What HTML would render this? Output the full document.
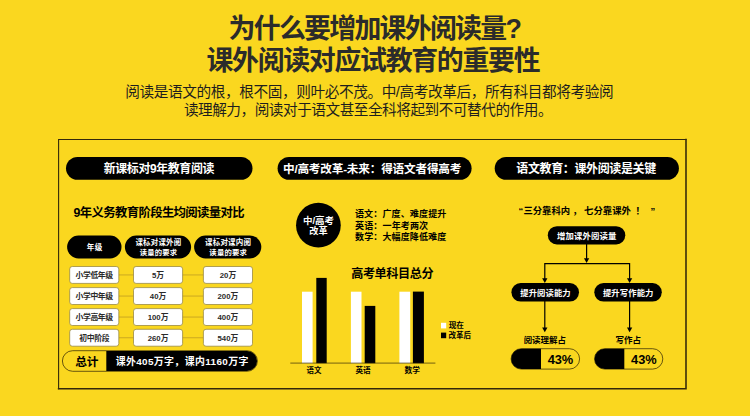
<!DOCTYPE html>
<html lang="zh-CN">
<head>
<meta charset="utf-8">
<title>为什么要增加课外阅读量?</title>
<style>
html,body{margin:0;padding:0}
body{width:750px;height:416px;background:#FAD71F;overflow:hidden;position:relative;
 font-family:"Liberation Sans",sans-serif;line-height:1;white-space:nowrap}
/* artwork: shapes + text */
#art{position:absolute;left:0;top:0;width:750px;height:416px;display:block}
#art text{font-family:"Liberation Sans","Noto Sans CJK SC",sans-serif;font-weight:bold}
#art text.n{font-weight:normal}
/* real text, laid over the artwork as a transparent selectable layer */
#txt,#txt *{position:absolute;margin:0;padding:0;box-sizing:border-box;font-weight:bold;overflow:hidden;color:transparent}
#txt,#txt section{left:0;top:0;width:750px;height:416px}
h1{font-size:25.5px;left:206px;width:334px;text-align:center}
p.sub{font-size:14.2px;font-weight:normal!important;left:126px;width:490px;text-align:center}
.c{text-align:center}
.hd{top:157px;height:23px;font-size:11.7px;line-height:23px}
.th{top:235px;height:23px;font-size:7.5px;line-height:9.3px;padding-top:2px}
.cell{width:49px;height:17px;font-size:7.5px;line-height:17px}
</style>
</head>
<body>
<svg id="art" viewBox="0 0 750 416" width="750" height="416" aria-hidden="true">
<path d="M58.6 388.8V139.5H686" fill="none" stroke="#33280a" stroke-width="1.1" stroke-linecap="square"/>
<path d="M686 139.5V388.8H58.6" fill="none" stroke="#33280a" stroke-width="1.55" stroke-linecap="square"/>
<rect x="66.00" y="156.90" width="186.50" height="22.90" rx="11.45" fill="#000"/>
<rect x="277.60" y="156.90" width="194.00" height="22.90" rx="11.45" fill="#000"/>
<rect x="494.70" y="156.90" width="184.20" height="22.90" rx="11.45" fill="#000"/>
<rect x="67.10" y="235.60" width="54.40" height="22.80" rx="11.40" fill="#000"/>
<rect x="124.90" y="235.60" width="66.20" height="22.80" rx="11.40" fill="#000"/>
<rect x="194.10" y="235.60" width="67.20" height="22.80" rx="11.40" fill="#000"/>
<path d="M118.80 274.95H203.40" stroke="#bf9d22" stroke-width="0.8"/>
<rect x="69.70" y="266.50" width="49.10" height="16.90" rx="2.60" fill="#fff" stroke="#8d7c36" stroke-width="0.70"/>
<rect x="133.50" y="266.50" width="49.10" height="16.90" rx="2.60" fill="#fff" stroke="#8d7c36" stroke-width="0.70"/>
<rect x="203.40" y="266.50" width="49.10" height="16.90" rx="2.60" fill="#fff" stroke="#8d7c36" stroke-width="0.70"/>
<path d="M118.80 296.05H203.40" stroke="#bf9d22" stroke-width="0.8"/>
<rect x="69.70" y="287.60" width="49.10" height="16.90" rx="2.60" fill="#fff" stroke="#8d7c36" stroke-width="0.70"/>
<rect x="133.50" y="287.60" width="49.10" height="16.90" rx="2.60" fill="#fff" stroke="#8d7c36" stroke-width="0.70"/>
<rect x="203.40" y="287.60" width="49.10" height="16.90" rx="2.60" fill="#fff" stroke="#8d7c36" stroke-width="0.70"/>
<path d="M118.80 317.05H203.40" stroke="#bf9d22" stroke-width="0.8"/>
<rect x="69.70" y="308.60" width="49.10" height="16.90" rx="2.60" fill="#fff" stroke="#8d7c36" stroke-width="0.70"/>
<rect x="133.50" y="308.60" width="49.10" height="16.90" rx="2.60" fill="#fff" stroke="#8d7c36" stroke-width="0.70"/>
<rect x="203.40" y="308.60" width="49.10" height="16.90" rx="2.60" fill="#fff" stroke="#8d7c36" stroke-width="0.70"/>
<path d="M118.80 337.75H203.40" stroke="#bf9d22" stroke-width="0.8"/>
<rect x="69.70" y="329.30" width="49.10" height="16.90" rx="2.60" fill="#fff" stroke="#8d7c36" stroke-width="0.70"/>
<rect x="133.50" y="329.30" width="49.10" height="16.90" rx="2.60" fill="#fff" stroke="#8d7c36" stroke-width="0.70"/>
<rect x="203.40" y="329.30" width="49.10" height="16.90" rx="2.60" fill="#fff" stroke="#8d7c36" stroke-width="0.70"/>
<rect x="62.40" y="350.70" width="195.00" height="20.60" rx="10.30" fill="#FAD71F" stroke="#2a2006" stroke-width="0.70"/>
<path d="M106.3 351.05H247.10a9.95 9.95 0 0 1 0 19.90H106.3z" fill="#000"/>
<circle cx="318.4" cy="225.2" r="22.35" fill="#000"/>
<rect x="302.00" y="291.70" width="10.60" height="71.50" fill="#fff"/>
<rect x="316.30" y="277.90" width="10.40" height="85.30" fill="#000"/>
<rect x="350.90" y="291.70" width="10.60" height="71.50" fill="#fff"/>
<rect x="364.70" y="305.90" width="10.60" height="57.30" fill="#000"/>
<rect x="399.40" y="291.70" width="10.80" height="71.50" fill="#fff"/>
<rect x="412.90" y="291.60" width="11.00" height="71.60" fill="#000"/>
<path d="M290.3 363.1H435.4" stroke="#2a2006" stroke-width="0.65"/>
<rect x="441.00" y="322.80" width="5.20" height="5.60" fill="#fff"/>
<rect x="441.00" y="332.60" width="5.20" height="5.60" fill="#000"/>
<rect x="547.80" y="226.20" width="77.50" height="18.20" rx="9.10" fill="#000"/>
<rect x="511.40" y="283.10" width="67.60" height="18.50" rx="9.25" fill="#000"/>
<rect x="594.30" y="283.10" width="67.50" height="18.50" rx="9.25" fill="#000"/>
<g stroke="#000" stroke-width="1.2" fill="none"><path d="M586.6 244V259"/><path d="M544.8 279V263.7H629.6V279"/><path d="M544.8 301V328"/><path d="M629.6 301V328"/></g>
<path d="M586.6 263.0l-2.65 -4.8h5.3z"/>
<path d="M544.8 283.0l-2.65 -4.8h5.3z"/>
<path d="M629.6 283.0l-2.65 -4.8h5.3z"/>
<path d="M544.8 332.3l-2.65 -4.8h5.3z"/>
<path d="M629.6 332.3l-2.65 -4.8h5.3z"/>
<rect x="511.10" y="348.70" width="68.50" height="20.40" rx="10.20" fill="#FAD71F" stroke="#2a2006" stroke-width="0.70"/>
<path d="M541.00 348.80H521.30a10.10 10.10 0 0 0 0 20.20H541.00z" fill="#000"/>
<rect x="594.50" y="348.70" width="68.30" height="20.40" rx="10.20" fill="#FAD71F" stroke="#2a2006" stroke-width="0.70"/>
<path d="M624.30 348.80H604.70a10.10 10.10 0 0 0 0 20.20H624.30z" fill="#000"/>
<text x="228.58" y="37.52" font-size="26.9" fill="#2b2b2b" letter-spacing="-1.72">为什么要增加课外阅读量?</text>
<text x="206.46" y="69.92" font-size="26.9" fill="#2b2b2b" letter-spacing="-1.29">课外阅读对应试教育的重要性</text>
<text class="n" x="125.31" y="96.97" font-size="14.65" fill="#1e1e1e" letter-spacing="-0.4">阅读是语文的根，根不固，则叶必不茂。中/高考改革后，所有科目都将考验阅</text>
<text class="n" x="183.88" y="114.87" font-size="14.65" fill="#1e1e1e" letter-spacing="-0.48">读理解力，阅读对于语文甚至全科将起到不可替代的作用。</text>
<text x="103.69" y="172.84" font-size="11.95" fill="#fff" letter-spacing="-0.37">新课标对9年教育阅读</text>
<text x="282.97" y="172.73" font-size="11.66" fill="#fff" letter-spacing="-0.22">中/高考改革-未来：得语文者得高考</text>
<text x="516.28" y="172.87" font-size="12.02" fill="#fff" letter-spacing="-0.38">语文教育：课外阅读是关键</text>
<text x="73.41" y="216.64" font-size="12.35" fill="#000" letter-spacing="-0.6">9年义务教育阶段生均阅读量对比</text>
<text x="86.82" y="250.21" font-size="7.52" fill="#fff" letter-spacing="0.3">年级</text>
<text x="135.44" y="245.39" font-size="7.48" fill="#fff" letter-spacing="0.18">课标对课外阅</text>
<text x="139.77" y="254.68" font-size="7.32" fill="#fff" letter-spacing="0.18">读量的要求</text>
<text x="205.04" y="245.40" font-size="7.5" fill="#fff" letter-spacing="0.18">课标对课内阅</text>
<text x="209.36" y="254.70" font-size="7.36" fill="#fff" letter-spacing="0.18">读量的要求</text>
<text x="75.42" y="278.26" font-size="7.8" fill="#2a2a2a" letter-spacing="-0.31">小学低年级</text>
<text x="158.05" y="278.26" font-size="7.8" fill="#2a2a2a" text-anchor="middle">5万</text>
<text x="227.95" y="278.26" font-size="7.8" fill="#2a2a2a" text-anchor="middle">20万</text>
<text x="75.42" y="299.26" font-size="7.8" fill="#2a2a2a" letter-spacing="-0.31">小学中年级</text>
<text x="158.05" y="299.26" font-size="7.8" fill="#2a2a2a" text-anchor="middle">40万</text>
<text x="227.95" y="299.26" font-size="7.8" fill="#2a2a2a" text-anchor="middle">200万</text>
<text x="75.42" y="320.26" font-size="7.8" fill="#2a2a2a" letter-spacing="-0.31">小学高年级</text>
<text x="158.05" y="320.26" font-size="7.8" fill="#2a2a2a" text-anchor="middle">100万</text>
<text x="227.95" y="320.26" font-size="7.8" fill="#2a2a2a" text-anchor="middle">400万</text>
<text x="79.18" y="340.96" font-size="7.8" fill="#2a2a2a" letter-spacing="-0.31">初中阶段</text>
<text x="158.05" y="340.96" font-size="7.8" fill="#2a2a2a" text-anchor="middle">260万</text>
<text x="227.95" y="340.96" font-size="7.8" fill="#2a2a2a" text-anchor="middle">540万</text>
<text x="75.13" y="365.92" font-size="11.7" fill="#000">总计</text>
<text x="115.65" y="365.32" font-size="9.92" fill="#fff" textLength="132.7" lengthAdjust="spacing">课外405万字，课内1160万字</text>
<text x="318.5" y="223.52" font-size="9.52" fill="#fff" text-anchor="middle">中/高考</text>
<text x="318.4" y="234.49" font-size="9.19" fill="#fff" text-anchor="middle">改革</text>
<text x="354.98" y="217.14" font-size="9.05" fill="#000" letter-spacing="0.1">语文：广度、难度提升</text>
<text x="355.06" y="228.84" font-size="9.05" fill="#000" letter-spacing="0.1">英语：一年考两次</text>
<text x="355.10" y="240.43" font-size="9.02" fill="#000" letter-spacing="0.1">数学：大幅度降低难度</text>
<text x="351.23" y="277.51" font-size="12.12" fill="#000" letter-spacing="-0.41">高考单科目总分</text>
<text x="306.54" y="373.33" font-size="7.46" fill="#000">语文</text>
<text x="355.39" y="373.40" font-size="7.62" fill="#000">英语</text>
<text x="404.53" y="373.42" font-size="7.68" fill="#000">数学</text>
<text x="448.63" y="328.48" font-size="7.59" fill="#000">现在</text>
<text x="448.51" y="338.35" font-size="7.51" fill="#000">改革后</text>
<text y="213.55" font-size="9.35" fill="#000"><tspan x="518.5">“</tspan><tspan x="523.41">三分靠科内</tspan><tspan x="572.59">，</tspan><tspan x="584.12">七分靠课外</tspan><tspan x="635.39">！</tspan><tspan x="650.5">”</tspan></text>
<text x="557.06" y="238.89" font-size="8.4" fill="#fff" letter-spacing="0.1">增加课外阅读量</text>
<text x="520.21" y="295.57" font-size="8.33" fill="#fff" letter-spacing="0.1">提升阅读能力</text>
<text x="602.91" y="295.57" font-size="8.35" fill="#fff" letter-spacing="0.1">提升写作能力</text>
<text x="523.70" y="343.01" font-size="8.45" fill="#000">阅读理解占</text>
<text x="615.55" y="342.83" font-size="8.5" fill="#000">写作占</text>
<text x="547.65" y="364.06" font-size="12.8" fill="#000">43%</text>
<text x="631.05" y="364.16" font-size="12.8" fill="#000">43%</text>
</svg>
<main id="txt">
<h1 style="top:14px">为什么要增加课外阅读量?</h1>
<h1 style="top:46px">课外阅读对应试教育的重要性</h1>
<p class="sub" style="top:84px">阅读是语文的根，根不固，则叶必不茂。中/高考改革后，所有科目都将考验阅</p>
<p class="sub" style="top:102px">读理解力，阅读对于语文甚至全科将起到不可替代的作用。</p>
<section>
<h2 class="c hd" style="left:66px;width:186px">新课标对9年教育阅读</h2>
<h3 style="left:74px;top:206px;font-size:11.7px">9年义务教育阶段生均阅读量对比</h3>
<div class="c th" style="left:67px;width:54px;line-height:19px">年级</div><div class="c th" style="left:125px;width:66px">课标对课外阅<br>读量的要求</div><div class="c th" style="left:194px;width:67px">课标对课内阅<br>读量的要求</div>
<div class="c cell" style="left:70px;top:266px">小学低年级</div><div class="c cell" style="left:134px;top:266px">5万</div><div class="c cell" style="left:203px;top:266px">20万</div>
<div class="c cell" style="left:70px;top:288px">小学中年级</div><div class="c cell" style="left:134px;top:288px">40万</div><div class="c cell" style="left:203px;top:288px">200万</div>
<div class="c cell" style="left:70px;top:309px">小学高年级</div><div class="c cell" style="left:134px;top:309px">100万</div><div class="c cell" style="left:203px;top:309px">400万</div>
<div class="c cell" style="left:70px;top:329px">初中阶段</div><div class="c cell" style="left:134px;top:329px">260万</div><div class="c cell" style="left:203px;top:329px">540万</div>
<div style="left:75px;top:355px;font-size:11.5px;letter-spacing:.5px">总计</div><div style="left:116px;top:356px;font-size:9.8px">课外405万字，课内1160万字</div>
</section>
<section>
<h2 class="c hd" style="left:278px;width:194px">中/高考改革-未来：得语文者得高考</h2>
<div class="c" style="left:297px;top:214px;width:44px;font-size:9.4px;line-height:12px">中/高考<br>改革</div>
<p style="left:355px;top:209px;font-size:9.1px;line-height:11.7px">语文：广度、难度提升<br>英语：一年考两次<br>数学：大幅度降低难度</p>
<h3 style="left:351px;top:267px;font-size:11.7px">高考单科目总分</h3>
<span style="left:307px;top:367px;font-size:7.3px">语文</span><span style="left:356px;top:367px;font-size:7.3px">英语</span><span style="left:405px;top:367px;font-size:7.3px">数学</span><span style="left:449px;top:321px;font-size:7.3px">现在</span><span style="left:449px;top:331px;font-size:7.3px">改革后</span>
</section>
<section>
<h2 class="c hd" style="left:495px;width:184px">语文教育：课外阅读是关键</h2>
<p style="left:519px;top:205px;font-size:9.3px">“三分靠科内，七分靠课外！ ”</p>
<div class="c" style="left:548px;top:227px;width:77px;font-size:8.5px;line-height:17px">增加课外阅读量</div>
<div class="c" style="left:511px;top:283px;width:68px;font-size:8.4px;line-height:18px">提升阅读能力</div><div class="c" style="left:594px;top:283px;width:68px;font-size:8.4px;line-height:18px">提升写作能力</div>
<span style="left:524px;top:335px;font-size:8.3px">阅读理解占</span><span style="left:616px;top:335px;font-size:8.3px">写作占</span>
<span style="left:548px;top:351px;font-size:14px">43%</span><span style="left:631px;top:351px;font-size:14px">43%</span>
</section>
</main>
</body>
</html>
